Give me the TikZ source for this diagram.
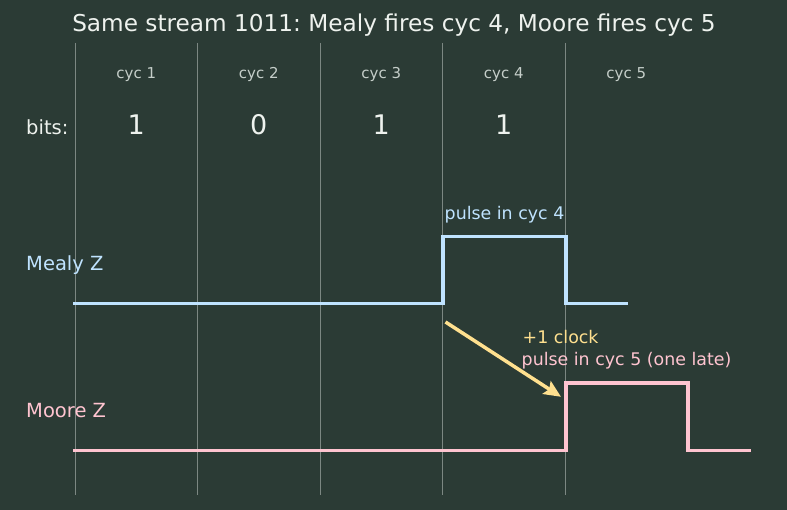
\documentclass[tikz,border=0pt]{standalone}
\usepackage{fontspec}
\setmainfont{DejaVu Sans}
\usetikzlibrary{arrows.meta}
\frenchspacing
\definecolor{bg}{HTML}{2B3B35}
\definecolor{grid}{HTML}{7C8782}
\definecolor{titlec}{HTML}{EEF2EE}
\definecolor{cycc}{HTML}{C5CEC9}
\definecolor{mealyc}{HTML}{BFE3FF}
\definecolor{moorec}{HTML}{FFC4D0}
\definecolor{arrowc}{HTML}{FFE08F}
\tikzset{
  gridline/.style={grid, line width=0.8pt},
  wave/.style={line width=3.8pt, line cap=rect, line join=miter},
  cyclab/.style={anchor=base, inner sep=0pt, text=cycc, font=\fontsize{15}{17}\selectfont},
  bitlab/.style={anchor=base, inner sep=0pt, text=titlec, font=\fontsize{27}{30}\selectfont},
  sidelab/.style={anchor=base west, inner sep=0pt, font=\fontsize{19.5}{22}\selectfont},
  annot/.style={anchor=base west, inner sep=0pt, font=\fontsize{17.4}{19}\selectfont},
}
\begin{document}
\begin{tikzpicture}[x=1pt,y=-1pt]
\fill[bg] (0,0) rectangle (787,510);
\useasboundingbox (0,0) rectangle (787,510);
% grid lines
\foreach \k in {0,...,4} {
  \draw[gridline] ({75+122.5*\k},43) -- ({75+122.5*\k},495);
}
% title
\node[anchor=base, inner sep=0pt, text=titlec, font=\fontsize{23.2}{26}\selectfont] (title) at (394,32) {Same stream 1011: Mealy fires cyc 4, Moore fires cyc 5};
% cycle labels
\node[cyclab] (c1) at (136.25,78.3) {cyc 1};
\node[cyclab] (c2) at (258.75,78.3) {cyc 2};
\node[cyclab] (c3) at (381.25,78.3) {cyc 3};
\node[cyclab] (c4) at (503.75,78.3) {cyc 4};
\node[cyclab] (c5) at (626.25,78.3) {cyc 5};
% bits
\node[sidelab, text=titlec] (bits) at (26,134.3) {bits:};
\node[bitlab] (b1) at (136.25,134.3) {1};
\node[bitlab] (b2) at (258.75,134.3) {0};
\node[bitlab] (b3) at (381.25,134.3) {1};
\node[bitlab] (b4) at (503.75,134.3) {1};
% signal labels
\node[sidelab, text=mealyc] (mealy) at (26,270.7) {Mealy Z};
\node[sidelab, text=moorec] (moore) at (26,417.3) {Moore Z};
% waveforms
\draw[wave, mealyc] (75,303.5) -- (443.3,303.5) -- (443.3,236.5) -- (565.7,236.5) -- (565.7,303.5) -- (626.3,303.5);
\draw[wave, moorec] (75,450.5) -- (565.7,450.5) -- (565.7,383.3) -- (688.3,383.3) -- (688.3,450.5) -- (748.8,450.5);
% annotations
\node[annot, text=mealyc] (p4) at (444.5,219.3) {pulse in cyc 4};
\node[annot, text=arrowc] (clk) at (522.5,344) {+1 clock};
\node[annot, text=moorec] (p5) at (521.5,365.7) {pulse in cyc 5 (one late)};
\coordinate (as) at (445.5,322);
\coordinate (ae) at (561,396.8);
\draw[arrowc, line width=3.5pt, -{Stealth[length=17pt,width=15pt,inset=3pt]}] (as) -- (ae);
\end{tikzpicture}
\end{document}
